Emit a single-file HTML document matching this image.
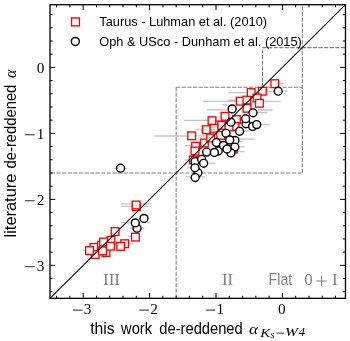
<!DOCTYPE html>
<html><head><meta charset="utf-8"><style>
html,body{margin:0;padding:0;background:#fff;width:350px;height:341px;overflow:hidden}
svg{display:block;will-change:transform}
</style></head><body>
<svg width="350" height="341" viewBox="0 0 350 341">
<rect width="350" height="341" fill="#fff"/>
<line x1="176.16" y1="298.33" x2="176.16" y2="87.19" stroke="#808080" stroke-width="1.05" stroke-dasharray="4.2 1.4" fill="none" stroke-dashoffset="0"/>
<line x1="50.00" y1="172.97" x2="302.32" y2="172.97" stroke="#808080" stroke-width="1.05" stroke-dasharray="4.2 1.4" fill="none" stroke-dashoffset="4.7"/>
<line x1="176.16" y1="87.19" x2="302.32" y2="87.19" stroke="#808080" stroke-width="1.05" stroke-dasharray="4.2 1.4" fill="none" stroke-dashoffset="0"/>
<line x1="302.32" y1="172.97" x2="302.32" y2="4.72" stroke="#808080" stroke-width="1.05" stroke-dasharray="4.2 1.4" fill="none" stroke-dashoffset="0"/>
<line x1="262.48" y1="87.19" x2="262.48" y2="47.61" stroke="#808080" stroke-width="1.05" stroke-dasharray="4.2 1.4" fill="none" stroke-dashoffset="0"/>
<line x1="262.48" y1="47.61" x2="345.48" y2="47.61" stroke="#808080" stroke-width="1.05" stroke-dasharray="4.2 1.4" fill="none" stroke-dashoffset="0"/>
<g fill="#808080" font-family="Liberation Serif" font-size="16.8">
<text x="103.0" y="285.1" textLength="17" lengthAdjust="spacingAndGlyphs">III</text>
<text x="222.0" y="285.1">II</text>
<text x="304.3" y="285.3">0</text>
<text x="332.0" y="285.1">I</text>
</g>
<rect x="316.3" y="280.5" width="10.4" height="1.0" fill="#808080"/>
<rect x="321.0" y="275.8" width="1.0" height="10.4" fill="#808080"/>
<text x="268.6" y="284.6" fill="#808080" font-family="Liberation Sans" font-size="14.2" transform="translate(0,284.6) scale(1,1.1) translate(0,-284.6)">Flat</text>
<path d="M83.0 250.4H85.3M120.7 203.9H131.9M120.7 206.3H131.9M140.5 203.9H151.6M140.5 206.3H149.3M120.8 222.6H131.2M147.3 222.9H150.0M129.6 228.0H133.0M141.0 228.0H144.4M128.2 236.5H131.0M139.7 236.5H141.7M128.6 243.9H133.7M113.5 168.3H127.0M154.8 136.0H187.3M195.8 135.9H205.0M183.9 120.3H207.9M202.9 101.3H237.3M222.3 104.6H227.6M207.0 109.8H227.6M195.3 129.3H202.0M210.7 127.7H215.0M185.0 145.7H192.2M184.8 159.8H189.1M187.6 167.5H190.6M185.8 176.9H191.2M199.4 176.9H205.0M207.0 163.1H215.0M239.6 139.0H248.5M239.6 141.6H242.7M237.6 146.9H244.7M236.7 151.6H244.6M244.0 131.0H248.7M239.5 139.2H255.4M260.8 124.6H270.2M257.3 110.0H272.5M257.5 112.5H267.4M263.7 101.3H280.5M228.0 92.6H246.8M228.0 100.2H237.0M279.4 83.4H284.0M266.9 91.3H273.5M282.7 91.2H287.0" stroke="#c4c4c4" stroke-width="1.3" fill="none"/>
<rect x="90.15" y="243.55" width="7.7" height="7.7" fill="#fff" stroke="#f00" stroke-width="1.35"/>
<rect x="91.35" y="250.65" width="7.7" height="7.7" fill="#fff" stroke="#f00" stroke-width="1.35"/>
<rect x="85.65" y="246.75" width="7.7" height="7.7" fill="#fff" stroke="#f00" stroke-width="1.35"/>
<rect x="97.55" y="241.45" width="7.7" height="7.7" fill="#fff" stroke="#f00" stroke-width="1.35"/>
<rect x="102.15" y="248.65" width="7.7" height="7.7" fill="#fff" stroke="#f00" stroke-width="1.35"/>
<rect x="98.75" y="247.05" width="7.7" height="7.7" fill="#fff" stroke="#f00" stroke-width="1.35"/>
<rect x="107.15" y="236.55" width="7.7" height="7.7" fill="#fff" stroke="#f00" stroke-width="1.35"/>
<rect x="99.75" y="238.15" width="7.7" height="7.7" fill="#fff" stroke="#f00" stroke-width="1.35"/>
<rect x="106.65" y="242.35" width="7.7" height="7.7" fill="#fff" stroke="#f00" stroke-width="1.35"/>
<rect x="120.85" y="239.85" width="7.7" height="7.7" fill="#fff" stroke="#f00" stroke-width="1.35"/>
<rect x="116.85" y="242.55" width="7.7" height="7.7" fill="#fff" stroke="#f00" stroke-width="1.35"/>
<rect x="111.25" y="227.65" width="7.7" height="7.7" fill="#fff" stroke="#f00" stroke-width="1.35"/>
<rect x="132.45" y="202.85" width="7.7" height="7.7" fill="#fff" stroke="#f00" stroke-width="1.35"/>
<rect x="132.25" y="201.15" width="7.7" height="7.7" fill="#fff" stroke="#f00" stroke-width="1.35"/>
<rect x="131.55" y="233.25" width="7.7" height="7.7" fill="#fff" stroke="#f00" stroke-width="1.35"/>
<rect x="187.75" y="131.95" width="7.7" height="7.7" fill="#fff" stroke="#f00" stroke-width="1.35"/>
<rect x="202.45" y="125.85" width="7.7" height="7.7" fill="#fff" stroke="#f00" stroke-width="1.35"/>
<rect x="208.15" y="116.85" width="7.7" height="7.7" fill="#fff" stroke="#f00" stroke-width="1.35"/>
<rect x="191.75" y="142.35" width="7.7" height="7.7" fill="#fff" stroke="#f00" stroke-width="1.35"/>
<rect x="200.55" y="139.15" width="7.7" height="7.7" fill="#fff" stroke="#f00" stroke-width="1.35"/>
<rect x="189.45" y="156.15" width="7.7" height="7.7" fill="#fff" stroke="#f00" stroke-width="1.35"/>
<rect x="191.05" y="147.15" width="7.7" height="7.7" fill="#fff" stroke="#f00" stroke-width="1.35"/>
<rect x="206.75" y="134.15" width="7.7" height="7.7" fill="#fff" stroke="#f00" stroke-width="1.35"/>
<rect x="215.65" y="121.15" width="7.7" height="7.7" fill="#fff" stroke="#f00" stroke-width="1.35"/>
<rect x="221.15" y="112.45" width="7.7" height="7.7" fill="#fff" stroke="#f00" stroke-width="1.35"/>
<rect x="217.75" y="121.55" width="7.7" height="7.7" fill="#fff" stroke="#f00" stroke-width="1.35"/>
<rect x="210.15" y="124.45" width="7.7" height="7.7" fill="#fff" stroke="#f00" stroke-width="1.35"/>
<rect x="232.55" y="115.75" width="7.7" height="7.7" fill="#fff" stroke="#f00" stroke-width="1.35"/>
<rect x="231.15" y="122.55" width="7.7" height="7.7" fill="#fff" stroke="#f00" stroke-width="1.35"/>
<rect x="225.15" y="123.15" width="7.7" height="7.7" fill="#fff" stroke="#f00" stroke-width="1.35"/>
<rect x="229.55" y="145.35" width="7.7" height="7.7" fill="#fff" stroke="#f00" stroke-width="1.35"/>
<rect x="216.85" y="131.55" width="7.7" height="7.7" fill="#fff" stroke="#f00" stroke-width="1.35"/>
<rect x="236.35" y="97.35" width="7.7" height="7.7" fill="#fff" stroke="#f00" stroke-width="1.35"/>
<rect x="243.05" y="96.25" width="7.7" height="7.7" fill="#fff" stroke="#f00" stroke-width="1.35"/>
<rect x="243.15" y="104.45" width="7.7" height="7.7" fill="#fff" stroke="#f00" stroke-width="1.35"/>
<rect x="247.35" y="88.75" width="7.7" height="7.7" fill="#fff" stroke="#f00" stroke-width="1.35"/>
<rect x="258.55" y="87.35" width="7.7" height="7.7" fill="#fff" stroke="#f00" stroke-width="1.35"/>
<rect x="253.15" y="94.15" width="7.7" height="7.7" fill="#fff" stroke="#f00" stroke-width="1.35"/>
<rect x="255.55" y="99.45" width="7.7" height="7.7" fill="#fff" stroke="#f00" stroke-width="1.35"/>
<rect x="270.95" y="79.85" width="7.7" height="7.7" fill="#fff" stroke="#f00" stroke-width="1.35"/>
<path d="M211.2 127.0H215.6M211.2 129.4H215.6" stroke="#c4c4c4" stroke-width="1.3" fill="none"/>
<circle cx="120.55" cy="168.20" r="3.95" fill="#fff" stroke="#000" stroke-width="1.4"/>
<circle cx="137.00" cy="228.20" r="3.95" fill="#fff" stroke="#000" stroke-width="1.4"/>
<circle cx="135.30" cy="222.90" r="3.95" fill="#fff" stroke="#000" stroke-width="1.4"/>
<circle cx="144.00" cy="218.40" r="3.95" fill="#fff" stroke="#000" stroke-width="1.4"/>
<circle cx="197.90" cy="172.70" r="3.95" fill="#fff" stroke="#000" stroke-width="1.4"/>
<circle cx="195.20" cy="177.50" r="3.95" fill="#fff" stroke="#000" stroke-width="1.4"/>
<circle cx="195.00" cy="161.60" r="3.95" fill="#fff" stroke="#000" stroke-width="1.4"/>
<circle cx="195.00" cy="167.80" r="3.95" fill="#fff" stroke="#000" stroke-width="1.4"/>
<circle cx="201.60" cy="159.30" r="3.95" fill="#fff" stroke="#000" stroke-width="1.4"/>
<circle cx="203.60" cy="163.30" r="3.95" fill="#fff" stroke="#000" stroke-width="1.4"/>
<circle cx="206.60" cy="152.10" r="3.95" fill="#fff" stroke="#000" stroke-width="1.4"/>
<circle cx="218.20" cy="151.00" r="3.95" fill="#fff" stroke="#000" stroke-width="1.4"/>
<circle cx="214.40" cy="152.40" r="3.95" fill="#fff" stroke="#000" stroke-width="1.4"/>
<circle cx="216.40" cy="142.50" r="3.95" fill="#fff" stroke="#000" stroke-width="1.4"/>
<circle cx="232.20" cy="108.90" r="3.95" fill="#fff" stroke="#000" stroke-width="1.4"/>
<circle cx="230.90" cy="122.20" r="3.95" fill="#fff" stroke="#000" stroke-width="1.4"/>
<circle cx="246.00" cy="123.80" r="3.95" fill="#fff" stroke="#000" stroke-width="1.4"/>
<circle cx="239.60" cy="131.30" r="3.95" fill="#fff" stroke="#000" stroke-width="1.4"/>
<circle cx="226.00" cy="133.30" r="3.95" fill="#fff" stroke="#000" stroke-width="1.4"/>
<circle cx="234.90" cy="140.40" r="3.95" fill="#fff" stroke="#000" stroke-width="1.4"/>
<circle cx="229.70" cy="139.90" r="3.95" fill="#fff" stroke="#000" stroke-width="1.4"/>
<circle cx="223.50" cy="145.40" r="3.95" fill="#fff" stroke="#000" stroke-width="1.4"/>
<circle cx="234.80" cy="147.10" r="3.95" fill="#fff" stroke="#000" stroke-width="1.4"/>
<circle cx="230.90" cy="152.90" r="3.95" fill="#fff" stroke="#000" stroke-width="1.4"/>
<circle cx="227.00" cy="149.00" r="3.95" fill="#fff" stroke="#000" stroke-width="1.4"/>
<circle cx="253.00" cy="112.80" r="3.95" fill="#fff" stroke="#000" stroke-width="1.4"/>
<circle cx="245.60" cy="118.70" r="3.95" fill="#fff" stroke="#000" stroke-width="1.4"/>
<circle cx="252.60" cy="126.40" r="3.95" fill="#fff" stroke="#000" stroke-width="1.4"/>
<circle cx="256.70" cy="124.60" r="3.95" fill="#fff" stroke="#000" stroke-width="1.4"/>
<circle cx="278.20" cy="91.20" r="3.95" fill="#fff" stroke="#000" stroke-width="1.4"/>
<line x1="50.00" y1="298.33" x2="345.48" y2="4.72" stroke="#111" stroke-width="1.1"/>
<rect x="50.00" y="4.72" width="295.48" height="293.61" fill="none" stroke="#000" stroke-width="1.3"/>
<path d="M56.64 298.33v-2.6M56.64 4.72v2.6M50.00 291.73h2.6M345.48 291.73h-2.6M69.92 298.33v-2.6M69.92 4.72v2.6M50.00 278.54h2.6M345.48 278.54h-2.6M83.20 298.33v-5.3M83.20 4.72v5.3M50.00 265.34h5.3M345.48 265.34h-5.3M96.48 298.33v-2.6M96.48 4.72v2.6M50.00 252.14h2.6M345.48 252.14h-2.6M109.76 298.33v-2.6M109.76 4.72v2.6M50.00 238.95h2.6M345.48 238.95h-2.6M123.04 298.33v-2.6M123.04 4.72v2.6M50.00 225.75h2.6M345.48 225.75h-2.6M136.32 298.33v-2.6M136.32 4.72v2.6M50.00 212.56h2.6M345.48 212.56h-2.6M149.60 298.33v-5.3M149.60 4.72v5.3M50.00 199.36h5.3M345.48 199.36h-5.3M162.88 298.33v-2.6M162.88 4.72v2.6M50.00 186.16h2.6M345.48 186.16h-2.6M176.16 298.33v-2.6M176.16 4.72v2.6M50.00 172.97h2.6M345.48 172.97h-2.6M189.44 298.33v-2.6M189.44 4.72v2.6M50.00 159.77h2.6M345.48 159.77h-2.6M202.72 298.33v-2.6M202.72 4.72v2.6M50.00 146.58h2.6M345.48 146.58h-2.6M216.00 298.33v-5.3M216.00 4.72v5.3M50.00 133.38h5.3M345.48 133.38h-5.3M229.28 298.33v-2.6M229.28 4.72v2.6M50.00 120.18h2.6M345.48 120.18h-2.6M242.56 298.33v-2.6M242.56 4.72v2.6M50.00 106.99h2.6M345.48 106.99h-2.6M255.84 298.33v-2.6M255.84 4.72v2.6M50.00 93.79h2.6M345.48 93.79h-2.6M269.12 298.33v-2.6M269.12 4.72v2.6M50.00 80.60h2.6M345.48 80.60h-2.6M282.40 298.33v-5.3M282.40 4.72v5.3M50.00 67.40h5.3M345.48 67.40h-5.3M295.68 298.33v-2.6M295.68 4.72v2.6M50.00 54.20h2.6M345.48 54.20h-2.6M308.96 298.33v-2.6M308.96 4.72v2.6M50.00 41.01h2.6M345.48 41.01h-2.6M322.24 298.33v-2.6M322.24 4.72v2.6M50.00 27.81h2.6M345.48 27.81h-2.6M335.52 298.33v-2.6M335.52 4.72v2.6M50.00 14.62h2.6M345.48 14.62h-2.6" stroke="#000" stroke-width="1.0" fill="none"/>
<g font-family="Liberation Serif" font-size="15.3" fill="#000">
<rect x="73.00" y="309.65" width="9.5" height="0.85" fill="#000"/>
<text x="83.80" y="314.0">3</text>
<rect x="139.40" y="309.65" width="9.5" height="0.85" fill="#000"/>
<text x="150.20" y="314.0">2</text>
<rect x="205.80" y="309.65" width="9.5" height="0.85" fill="#000"/>
<text x="216.60" y="314.0">1</text>
<text x="277.90" y="314.0">0</text>
<text x="44.3" y="72.70" text-anchor="end">0</text>
<text x="44.3" y="138.68" text-anchor="end">1</text>
<rect x="25.2" y="134.38" width="9.5" height="0.85" fill="#000"/>
<text x="44.3" y="204.66" text-anchor="end">2</text>
<rect x="25.2" y="200.36" width="9.5" height="0.85" fill="#000"/>
<text x="44.3" y="270.64" text-anchor="end">3</text>
<rect x="25.2" y="266.34" width="9.5" height="0.85" fill="#000"/>
</g>
<g font-family="Liberation Sans" font-size="15.3" transform="translate(0,334) scale(1,1.05) translate(0,-334)"><text x="90.17" y="334.0" textLength="24.48" lengthAdjust="spacingAndGlyphs">this</text><text x="121.1" y="334.0" textLength="30.92" lengthAdjust="spacingAndGlyphs">work</text><text x="159.3" y="334.0" textLength="83.44" lengthAdjust="spacingAndGlyphs">de-reddened</text></g>
<text x="249.0" y="334.3" font-family="Liberation Serif" font-style="italic" font-size="15.5" transform="translate(249,0) scale(1.12,1) translate(-249,0)">α</text>
<text x="0" y="336.6" font-family="Liberation Serif" font-style="italic" font-size="12.4" transform="translate(260.2,0) scale(1.22,1)">K</text>
<text x="270.5" y="338.3" font-family="Liberation Serif" font-style="italic" font-size="10">s</text>
<rect x="276.7" y="332.7" width="7.3" height="0.8" fill="#000"/>
<text x="0" y="336.4" font-family="Liberation Serif" font-style="italic" font-size="12.4" transform="translate(284.9,0) scale(1.25,1)">W</text>
<text x="298.8" y="336.4" font-family="Liberation Serif" font-style="italic" font-size="12.4">4</text>
<g transform="translate(16.4,0) rotate(-90)" font-family="Liberation Sans" font-size="15.3"><g transform="scale(1,1.05)"><text x="-237.4" y="0" textLength="63.7" lengthAdjust="spacingAndGlyphs">literature</text><text x="-168.5" y="0" textLength="83.84" lengthAdjust="spacingAndGlyphs">de-reddened</text></g><text x="-77.9" y="0" font-family="Liberation Serif" font-style="italic" font-size="16">α</text></g>
<rect x="71.5" y="17.95" width="7.9" height="7.9" fill="none" stroke="#f00" stroke-width="1.4"/>
<circle cx="75.35" cy="41.45" r="4.0" fill="none" stroke="#000" stroke-width="1.45"/>
<g font-family="Liberation Sans" font-size="12.8">
<text x="99.3" y="26.3" transform="translate(0,26.3) scale(1,1.05) translate(0,-26.3)">Taurus - Luhman et al. (2010)</text>
<text x="99.3" y="46.0" transform="translate(0,46) scale(1,1.05) translate(0,-46)">Oph &amp; USco - Dunham et al. (2015)</text>
</g>
</svg>
</body></html>
